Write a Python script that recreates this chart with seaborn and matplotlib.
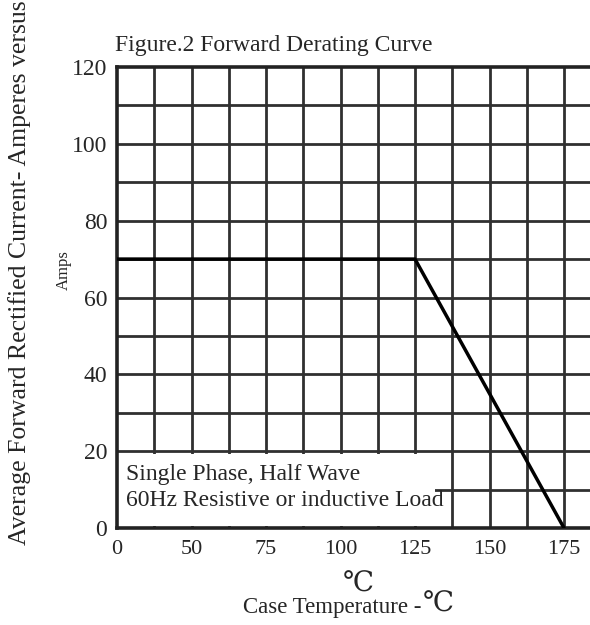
import numpy as np
import matplotlib
matplotlib.use("Agg")
import matplotlib.pyplot as plt
import seaborn as sns
from matplotlib.patches import Rectangle

# Datos de la curva de derating
temp_c = [25, 125, 175]
amps = [70, 70, 0]

x_tick_pos = [25, 50, 75, 100, 125, 150, 175]
x_tick_lbl = ["0", "50", "75", "100", "125", "150", "175"]
y_tick_pos = [0, 20, 40, 60, 80, 100, 120]

sns.set_style("white")
plt.rcParams["font.family"] = ["Liberation Serif", "DejaVu Serif"]

fig = plt.figure(figsize=(5.9, 6.25), dpi=100)
ax = fig.add_axes([117 / 590, 1 - 528 / 625, (590 - 117) / 590, (528 - 67) / 625])

x_max = 25 + (590 - 117) / 37.25 * 12.5
ax.set_xlim(25, x_max)
ax.set_ylim(0, 120)

# Rejilla
grid_col = "#303030"
ax.vlines(np.arange(37.5, x_max, 12.5), 0, 120, color=grid_col, lw=2, zorder=1)
ax.hlines(np.arange(10, 120, 10), 25, x_max, color=grid_col, lw=2, zorder=1)

# Caja de texto
ax.add_patch(Rectangle((25.3, 0.6), 106.5, 18.6, facecolor="white",
                       edgecolor="none", zorder=2))
ax.text(28, 13.9, "Single Phase, Half Wave", fontsize=17, va="center", zorder=3)
ax.text(28, 7.2, "60Hz Resistive or inductive Load", fontsize=17, va="center", zorder=3)

sns.lineplot(x=temp_c, y=amps, color="black", lw=2.5, ax=ax, zorder=4)

ax.set_xticks(x_tick_pos)
ax.set_xticklabels(x_tick_lbl)
ax.set_xticks(np.arange(37.5, 175, 25), minor=True)
ax.set_yticks(y_tick_pos)
ax.set_yticks(np.arange(10, 120, 20), minor=True)
ax.tick_params(axis="x", which="both", direction="in", length=8, width=2,
               color=grid_col, pad=9, labelsize=16)
ax.tick_params(axis="y", which="both", direction="out", length=3, width=2,
               color=grid_col, pad=4, labelsize=17)
ax.set_axisbelow(False)

for side in ["left", "top", "bottom"]:
    ax.spines[side].set_linewidth(2.6)
    ax.spines[side].set_color("#222222")
ax.spines["right"].set_visible(False)

fig.text(115 / 590, 1 - 45 / 625, "Figure.2 Forward Derating Curve",
         fontsize=17, va="center", ha="left")
fig.text(20 / 590, 1 - 545 / 625, "Average Forward Rectified Current- Amperes versus",
         fontsize=18.5, rotation=90, ha="center", va="bottom")
fig.text(64 / 590, 1 - 270 / 625, "Amps", fontsize=12, rotation=90,
         ha="center", va="center")
fig.text(358 / 590, 1 - 585 / 625, "\u2103", fontsize=20, ha="center", va="center")
fig.text(243 / 590, 1 - 607 / 625, "Case Temperature -", fontsize=16.5,
         ha="left", va="center")
fig.text(438 / 590, 1 - 605 / 625, "\u2103", fontsize=20, ha="center", va="center")

fig.savefig("out.png", dpi=100)
